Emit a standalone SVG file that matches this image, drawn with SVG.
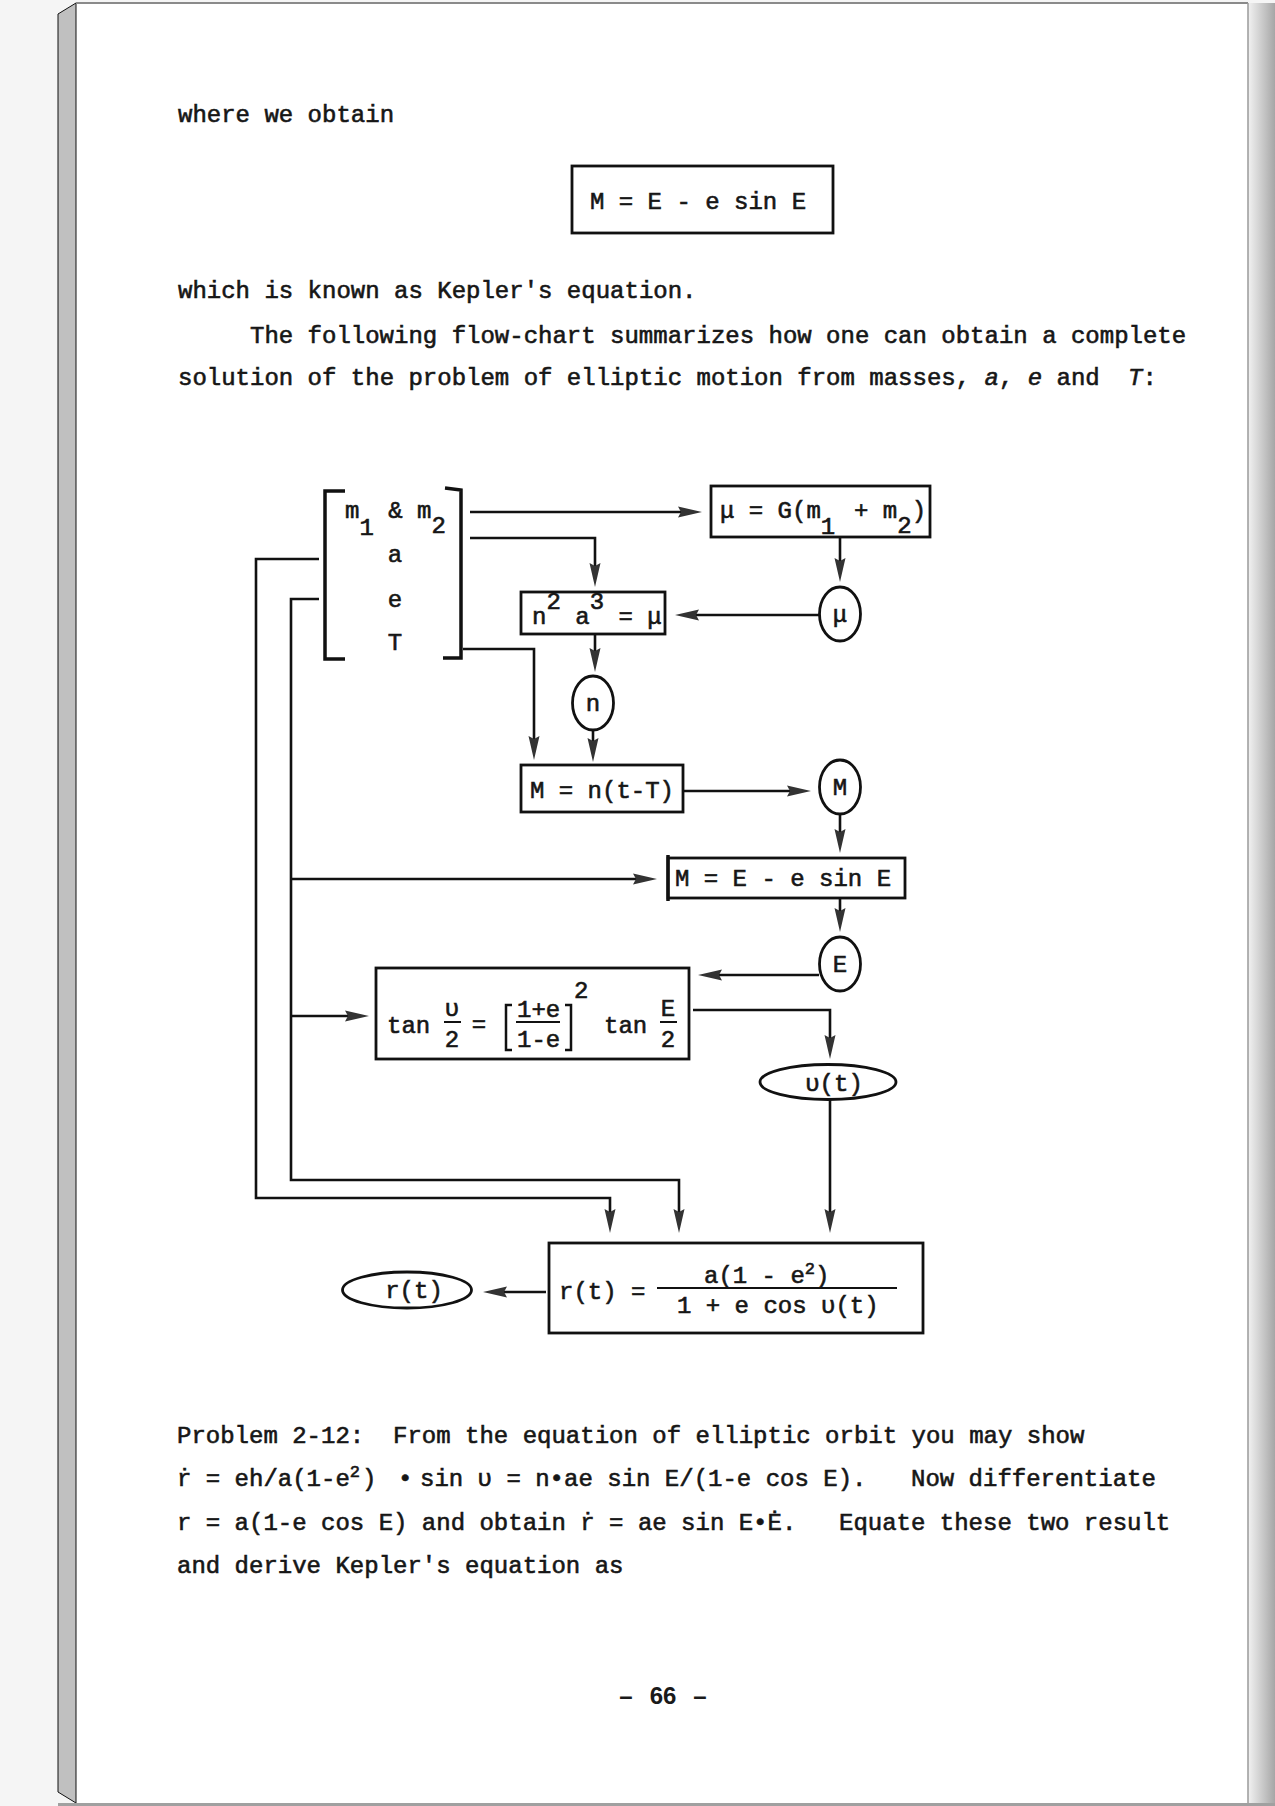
<svg xmlns="http://www.w3.org/2000/svg" width="1275" height="1806" viewBox="0 0 1275 1806">
<defs>
<linearGradient id="rg" x1="0" x2="1" y1="0" y2="0">
<stop offset="0" stop-color="#f2f2f2"/>
<stop offset="1" stop-color="#a6a6a6"/>
</linearGradient>
<marker id="ah" viewBox="0 0 24 12" refX="6" refY="6" markerWidth="24" markerHeight="12" markerUnits="userSpaceOnUse" orient="auto">
<path d="M0,0.5 L24,6 L0,11.5 L3,6 Z" fill="#333"/>
</marker>
<style>
.t{font-family:"Liberation Mono","Courier New","DejaVu Sans Mono",monospace;font-size:24px;fill:#161616;stroke:#161616;stroke-width:0.6}
.i{font-style:italic}
.s{font-size:17px}
.box{fill:none;stroke:#111;stroke-width:2.8}
.c{fill:none;stroke:#111;stroke-width:2.8}
.ar{fill:none;stroke:#111;stroke-width:2.6;marker-end:url(#ah)}
.mid{text-anchor:middle}
.pn{font-family:"Liberation Sans",Arial,sans-serif;font-size:24px;font-weight:bold;fill:#1a1a1a;text-anchor:middle}
</style>
</defs>

<g id="page">
<rect x="0" y="0" width="1275" height="1806" fill="#f5f5f5"/>
<rect x="76" y="3" width="1172" height="1800" fill="#ffffff"/>
<polygon points="58,14 76,3 76,1803 58,1792" fill="#c0c0c0" stroke="#111" stroke-width="1"/>
<line x1="76" y1="3" x2="1248" y2="3" stroke="#8a8a8a" stroke-width="2"/>
<rect x="1248" y="3" width="27" height="1803" fill="url(#rg)"/>
<line x1="1248" y1="3" x2="1248" y2="1803" stroke="#9a9a9a" stroke-width="1.5"/>
<rect x="58" y="1803" width="1217" height="3" fill="#a0a0a0"/>
</g>

<g id="intro-text">
<text class="t" x="178" y="122">where we obtain</text>
<text class="t" x="178" y="298">which is known as Kepler's equation.</text>
<text class="t" x="250" y="343">The following flow-chart summarizes how one can obtain a complete</text>
<text class="t" x="178" y="385">solution of the problem of elliptic motion from masses, <tspan class="i">a</tspan>, <tspan class="i">e</tspan> and <tspan class="i" x="1128">T</tspan>:</text>
</g>

<g id="kepler-box">
<rect class="box" x="572" y="166" width="261" height="67"/>
<text class="t" x="590" y="209">M = E - e sin E</text>
</g>

<g id="connectors">
<path class="ar" d="M470,512 H684"/>
<path class="ar" d="M470,538 H595 V569"/>
<path class="ar" d="M463,649 H534 V742"/>
<path class="ar" d="M840,537 V564"/>
<path class="ar" d="M820,615 H693"/>
<path class="ar" d="M595,635 V654"/>
<path class="ar" d="M593,731 V744"/>
<path class="ar" d="M683,791 H793"/>
<path class="ar" d="M840,814 V835"/>
<path class="ar" d="M291,879 H639"/>
<path class="ar" d="M840,898 V914"/>
<path class="ar" d="M819,975 H716"/>
<path class="ar" d="M291,1016 H351"/>
<path class="ar" d="M693,1010 H830 V1041"/>
<path class="ar" d="M830,1100 V1215"/>
<path class="ar" d="M319,559 H256 V1198 H610 V1215"/>
<path class="ar" d="M319,599 H291 V1180 H679 V1215"/>
<path class="ar" d="M546,1292 H501"/>
</g>

<g id="inputs">
<path d="M345,491 H325 V659 H345" fill="none" stroke="#111" stroke-width="3.5"/>
<path d="M445,488 L461,490 V658 H443" fill="none" stroke="#111" stroke-width="3.5"/>
<text class="t" x="345" y="518">m<tspan dy="17">1</tspan><tspan dy="-17"> &amp; m</tspan><tspan dy="15">2</tspan></text>
<text class="t mid" x="395" y="562">a</text>
<text class="t mid" x="395" y="607">e</text>
<text class="t mid" x="395" y="650">T</text>
</g>

<g id="mu-box">
<rect class="box" x="711" y="486" width="219" height="51"/>
<text class="t" x="720" y="518">μ = G(m<tspan dy="16">1</tspan><tspan dy="-16" x="854">+ m</tspan><tspan dy="15">2</tspan><tspan dy="-15">)</tspan></text>
</g>

<g id="mu-circle">
<ellipse class="c" cx="840" cy="614" rx="20.5" ry="27"/>
<text class="t mid" x="840" y="622">μ</text>
</g>

<g id="n-a-box">
<rect class="box" x="521" y="592" width="144" height="42"/>
<text class="t" x="532" y="624">n<tspan dy="-15">2</tspan><tspan dy="15"> a</tspan><tspan dy="-15">3</tspan><tspan dy="15"> = μ</tspan></text>
</g>

<g id="n-circle">
<ellipse class="c" cx="593" cy="703" rx="20.5" ry="27"/>
<text class="t mid" x="593" y="711">n</text>
</g>

<g id="mean-anomaly-box">
<rect class="box" x="521" y="765" width="162" height="47"/>
<text class="t" x="530" y="798">M = n(t-T)</text>
</g>

<g id="M-circle">
<ellipse class="c" cx="840" cy="787" rx="20.5" ry="27"/>
<text class="t mid" x="840" y="795">M</text>
</g>

<g id="kepler-node">
<rect class="box" x="668" y="858" width="237" height="40"/>
<line x1="668" y1="855" x2="668" y2="901" stroke="#111" stroke-width="3.5"/>
<text class="t" x="675" y="886">M = E - e sin E</text>
</g>

<g id="E-circle">
<ellipse class="c" cx="840" cy="964" rx="20.5" ry="27"/>
<text class="t mid" x="840" y="972">E</text>
</g>

<g id="tan-box">
<rect class="box" x="376" y="968" width="313" height="91"/>
<text class="t" x="387" y="1033">tan</text>
<text class="t mid" x="452" y="1016">υ</text>
<line x1="444" y1="1022" x2="461" y2="1022" stroke="#111" stroke-width="2"/>
<text class="t mid" x="452" y="1047">2</text>
<text class="t mid" x="479" y="1032">=</text>
<path d="M512,1005 H506 V1050 H512" fill="none" stroke="#111" stroke-width="2.5"/>
<text class="t" x="517" y="1017">1+e</text>
<line x1="516" y1="1022" x2="560" y2="1022" stroke="#111" stroke-width="2"/>
<text class="t" x="517" y="1047">1-e</text>
<path d="M565,1005 H571 V1050 H565" fill="none" stroke="#111" stroke-width="2.5"/>
<text class="t" x="574" y="998">2</text>
<text class="t" x="604" y="1033">tan</text>
<text class="t mid" x="668" y="1016">E</text>
<line x1="660" y1="1022" x2="677" y2="1022" stroke="#111" stroke-width="2"/>
<text class="t mid" x="668" y="1047">2</text>
</g>

<g id="nu-ellipse">
<ellipse class="c" cx="828" cy="1082" rx="68" ry="17.5"/>
<text class="t mid" x="834" y="1091">υ(t)</text>
</g>

<g id="radius-box">
<rect class="box" x="549" y="1243" width="374" height="90"/>
<text class="t" x="559" y="1299">r(t) =</text>
<text class="t" x="704" y="1283">a(1 - e<tspan class="s" dy="-9">2</tspan><tspan dy="9">)</tspan></text>
<line x1="657" y1="1288" x2="897" y2="1288" stroke="#111" stroke-width="2"/>
<text class="t" x="677" y="1313">1 + e cos υ(t)</text>
</g>

<g id="r-ellipse">
<ellipse class="c" cx="407" cy="1290" rx="64.5" ry="18"/>
<text class="t mid" x="414" y="1298">r(t)</text>
</g>

<g id="problem-text">
<text class="t" x="177" y="1443" xml:space="preserve">Problem 2-12:  From the equation of elliptic orbit you may show</text>
<text class="t" x="177" y="1486">ṙ = eh/a(1-e<tspan class="s" dy="-9">2</tspan><tspan dy="9" x="362">)</tspan><tspan x="398">•</tspan><tspan x="420">sin υ = n•ae sin E/(1-e cos E).</tspan><tspan x="911">Now differentiate</tspan></text>
<text class="t" x="177" y="1530">r = a(1-e cos E) and obtain ṙ = ae sin E•Ė.<tspan x="839">Equate these two result</tspan></text>
<text class="t" x="177" y="1573">and derive Kepler's equation as</text>
</g>

<g id="page-number">
<text class="pn" x="626" y="1704">–</text>
<text class="pn" x="663" y="1704">66</text>
<text class="pn" x="700" y="1704">–</text>
</g>
</svg>
